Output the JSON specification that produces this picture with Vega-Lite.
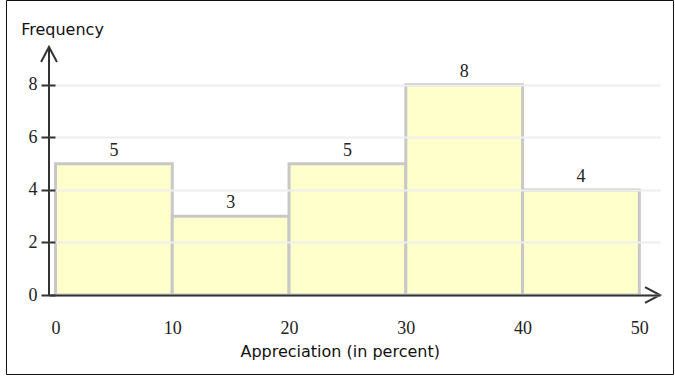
{
  "$schema": "https://vega.github.io/schema/vega-lite/v6.json",
  "width": 611,
  "height": 248,
  "autosize": {"type": "none"},
  "padding": {"left": 49, "top": 47, "right": 15, "bottom": 83},
  "background": "#ffffff",
  "config": {"view": {"stroke": null}},
  "data": {
    "values": [
      {"from": 0, "to": 10, "mid": 5, "frequency": 5},
      {"from": 10, "to": 20, "mid": 15, "frequency": 3},
      {"from": 20, "to": 30, "mid": 25, "frequency": 5},
      {"from": 30, "to": 40, "mid": 35, "frequency": 8},
      {"from": 40, "to": 50, "mid": 45, "frequency": 4}
    ]
  },
  "resolve": {"axis": {"x": "independent", "y": "independent"}},
  "layer": [
    {
      "data": {"values": [{}]},
      "mark": {"type": "rect", "fill": "transparent", "stroke": "#111111", "strokeWidth": 1, "clip": false},
      "encoding": {
        "x": {"datum": -4.197, "type": "quantitative", "scale": {"domain": [-0.557, 51.77], "nice": false, "zero": false}, "axis": null},
        "x2": {"datum": 52.926},
        "y": {"datum": 11.21, "type": "quantitative", "scale": {"domain": [0, 9.44], "nice": false, "zero": false}, "axis": null},
        "y2": {"datum": -3.026}
      }
    },
    {
      "mark": {"type": "rect", "fill": "#ffffcc", "stroke": "#c8c8c8", "strokeWidth": 3},
      "encoding": {
        "x": {
          "field": "from", "type": "quantitative",
          "scale": {"domain": [-0.557, 51.77], "nice": false, "zero": false},
          "axis": {
            "values": [0, 10, 20, 30, 40, 50], "format": "d",
            "ticks": false, "tickSize": 0, "grid": false,
            "domainColor": "#333333", "domainWidth": 2,
            "labelFont": "Liberation Serif", "labelFontSize": 18, "labelColor": "#222222",
            "labelPadding": 38, "labelBaseline": "alphabetic", "labelFlush": false, "labelOverlap": false,
            "title": "Appreciation (in percent)", "titleFont": "DejaVu Sans", "titleFontSize": 16,
            "titleFontWeight": "normal", "titleColor": "#111111",
            "titleX": 290.7, "titleY": 61, "titleAlign": "center", "titleBaseline": "alphabetic",
            "zindex": 1
          }
        },
        "x2": {"field": "to"},
        "y": {
          "field": "frequency", "type": "quantitative",
          "scale": {"domain": [0, 9.44], "nice": false, "zero": false},
          "axis": {
            "values": [0, 2, 4, 6, 8], "format": "d", "offset": -6,
            "grid": true, "gridColor": "#eeeeee", "gridWidth": 2,
            "domain": false,
            "tickColor": "#333333", "tickWidth": 2, "tickSize": 14,
            "labelFont": "Liberation Serif", "labelFontSize": 18, "labelColor": "#222222",
            "labelPadding": 4, "labelFlush": false,
            "title": "Frequency", "titleFont": "DejaVu Sans", "titleFontSize": 16,
            "titleFontWeight": "normal", "titleColor": "#111111",
            "titleAngle": 0, "titleAlign": "left", "titleBaseline": "alphabetic",
            "titleX": -34.3, "titleY": -13,
            "zindex": 1
          }
        },
        "y2": {"datum": 0}
      }
    },
    {
      "mark": {"type": "text", "font": "Liberation Serif", "fontSize": 18, "color": "#222222", "baseline": "alphabetic", "dy": -8},
      "encoding": {
        "x": {"field": "mid", "type": "quantitative", "axis": null},
        "y": {"field": "frequency", "type": "quantitative", "axis": null},
        "text": {"field": "frequency", "type": "quantitative"}
      }
    },
    {
      "data": {"values": [{}]},
      "mark": {"type": "rule", "stroke": "#333333", "strokeWidth": 2, "clip": false},
      "encoding": {
        "x": {"datum": -0.557, "type": "quantitative", "axis": null},
        "y": {"datum": 0, "type": "quantitative", "axis": null},
        "y2": {"datum": 9.44}
      }
    },
    {
      "data": {"values": [{}]},
      "mark": {"type": "point", "shape": "M-0.53,1L0,0L0.53,1", "size": 900, "filled": false, "stroke": "#333333", "strokeWidth": 2, "opacity": 1, "clip": false},
      "encoding": {
        "x": {"datum": -0.557, "type": "quantitative", "axis": null},
        "y": {"datum": 9.44, "type": "quantitative", "axis": null}
      }
    },
    {
      "data": {"values": [{}]},
      "mark": {"type": "point", "shape": "M-1,-0.53L0,0L-1,0.53", "size": 900, "filled": false, "stroke": "#333333", "strokeWidth": 2, "opacity": 1, "clip": false},
      "encoding": {
        "x": {"datum": 51.77, "type": "quantitative", "axis": null},
        "y": {"datum": 0, "type": "quantitative", "axis": null}
      }
    }
  ]
}
